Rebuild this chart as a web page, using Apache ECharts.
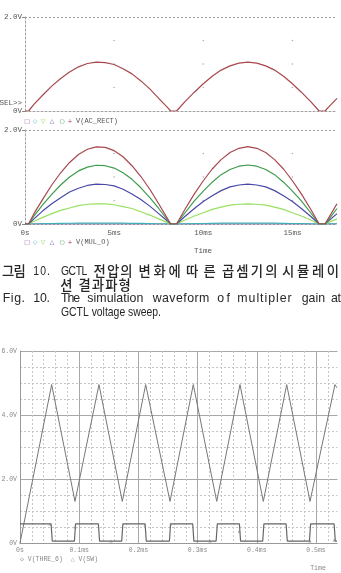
<!DOCTYPE html>
<html><head><meta charset="utf-8">
<script src="https://cdn.jsdelivr.net/npm/echarts@6/dist/echarts.min.js"></script>
<style>html,body{margin:0;padding:0;background:#fff}#c{width:341px;height:573px}</style>
</head><body><div id="c"></div>
<script>
// ---- Data: top panels (time in ms, volts) ----
const timeMs = [0,0.2,0.5,1,1.5,2,2.5,3,3.5,4,4.5,5,5.5,6,6.5,7,7.5,8,8.17,8.5,9,9.5,10,10.5,11,11.5,12,12.5,13,13.5,14,14.5,15,15.5,16,16.5,16.83,17,17.5];
const acRect = [0,0,0.14,0.34,0.53,0.69,0.83,0.94,1.01,1.04,1.03,0.99,0.90,0.79,0.64,0.47,0.27,0.07,0,0,0.21,0.40,0.58,0.74,0.87,0.96,1.02,1.04,1.02,0.96,0.87,0.74,0.58,0.40,0.21,0,0,0.07,0.27];
const mulPurple = [0,0,0,0,0,0,0,0,0,0,0,0,0,0,0,0,0,0,0,0,0,0,0,0,0,0,0,0,0,0,0,0,0,0,0,0,0,0,0];
const mulCyan = [0,0,0,0.006,0.01,0.013,0.016,0.018,0.019,0.02,0.02,0.019,0.017,0.015,0.012,0.009,0.005,0.001,0,0,0.004,0.008,0.011,0.014,0.017,0.018,0.019,0.02,0.019,0.018,0.017,0.014,0.011,0.008,0.004,0,0,0.001,0.005];
const mulLime = [0,0,0.06,0.14,0.22,0.29,0.34,0.39,0.42,0.43,0.43,0.41,0.37,0.33,0.26,0.19,0.11,0.03,0,0,0.09,0.17,0.24,0.31,0.36,0.40,0.42,0.43,0.42,0.40,0.36,0.31,0.24,0.17,0.09,0,0,0.03,0.11];
const mulBlue = [0,0,0.11,0.28,0.43,0.56,0.68,0.76,0.82,0.85,0.84,0.81,0.74,0.64,0.52,0.38,0.22,0.06,0,0,0.17,0.33,0.48,0.60,0.71,0.79,0.83,0.85,0.83,0.79,0.71,0.60,0.48,0.33,0.17,0,0,0.06,0.22];
const mulGreen = [0,0,0.17,0.41,0.63,0.83,1.00,1.13,1.21,1.25,1.24,1.19,1.09,0.95,0.77,0.56,0.33,0.08,0,0,0.25,0.49,0.70,0.89,1.05,1.16,1.23,1.255,1.23,1.16,1.05,0.89,0.70,0.49,0.25,0,0,0.08,0.33];
const mulRed = [0,0,0.22,0.53,0.83,1.09,1.31,1.48,1.59,1.64,1.63,1.56,1.43,1.24,1.01,0.74,0.43,0.11,0,0,0.33,0.64,0.92,1.17,1.37,1.52,1.61,1.645,1.61,1.52,1.37,1.17,0.92,0.64,0.33,0,0,0.11,0.43];
const topTicksX = [0,5,10,15];
const topTickLabels = ['0s','5ms','10ms','15ms'];
const dotGridX = [5,10,15];
const dotGridY = [0.5,1.0,1.5];

// ---- Data: bottom chart (time in ms, volts) ----
const thrTime = [0,0.0535,0.0929,0.1334,0.1728,0.2123,0.2534,0.2927,0.3323,0.3716,0.411,0.4505,0.4899,0.532,0.5355];
const thrVolt = [0,4.95,1.3,4.95,1.3,4.95,1.3,4.95,1.3,4.95,1.3,4.95,1.3,4.95,4.85];
const swTime = [0,0.0525,0.0545,0.0919,0.0939,0.1324,0.1344,0.1718,0.1738,0.2113,0.2133,0.2524,0.2544,0.2917,0.2937,0.3313,0.3333,0.3706,0.3726,0.41,0.412,0.4495,0.4515,0.4889,0.4909,0.5306,0.5326,0.5355];
const swVolt = [0.6,0.6,0.06,0.06,0.6,0.6,0.06,0.06,0.6,0.6,0.06,0.06,0.6,0.6,0.06,0.06,0.6,0.6,0.06,0.06,0.6,0.6,0.06,0.06,0.6,0.6,0.06,0.06];
const swMarkTime = [0.0507,0.0929,0.1537,0.2111,0.2546,0.3209,0.3704,0.4899,0.5309];
const swMarkVolt = [0.59,0.5,0.06,0.56,0.59,0.06,0.37,0.06,0.09];

const pairs = (xs, ys) => xs.map((x, i) => [x, ys[i]]);
const cross = (xs, ys) => { const d = []; xs.forEach(x => ys.forEach(y => d.push([x, y]))); return d; };

const mono = '"Liberation Mono","DejaVu Sans Mono",monospace';
const dashGray = '#a0a0a0';

const chart = echarts.init(document.getElementById('c'));

function topX(gi, showLabels) {
  return {
    type: 'value', gridIndex: gi, min: 0, max: 17.5, interval: 5,
    axisLine: { show: true, onZero: false, lineStyle: { color: dashGray, type: [2, 2], width: 1 } },
    axisTick: { show: false },
    axisLabel: {
      show: showLabels, margin: 5, fontFamily: mono, fontSize: 7.5, color: '#555',
      formatter: v => { const i = topTicksX.indexOf(v); return i >= 0 ? topTickLabels[i] : ''; }
    },
    splitLine: { show: false }
  };
}
function topY(gi) {
  return {
    type: 'value', gridIndex: gi, min: 0, max: 2, interval: 2,
    axisLine: { show: true, lineStyle: { color: dashGray, type: [2, 2], width: 1 } },
    axisTick: { show: true, length: 3, lineStyle: { color: '#888' } },
    axisLabel: { margin: 3, fontFamily: mono, fontSize: 7.5, color: '#555', formatter: v => v === 0 ? '0V' : (v === 2 ? '2.0V' : '') },
    splitLine: { show: true, lineStyle: { color: dashGray, type: [2, 2], width: 1 } }
  };
}
function ln(name, gi, xs, ys, color, w) {
  return { name, type: 'line', xAxisIndex: gi, yAxisIndex: gi, data: pairs(xs, ys), showSymbol: false, symbol: 'none',
    lineStyle: { color, width: w || 1.2 }, animation: false, silent: true };
}
function dotSeries(gi) {
  return { type: 'scatter', xAxisIndex: gi, yAxisIndex: gi, data: cross(dotGridX, dotGridY), symbolSize: 1.6,
    itemStyle: { color: '#9a9a9a' }, animation: false, silent: true };
}

const graphics = [];
function txt(text, x, y, font, fill, align) {
  graphics.push({ type: 'text', x, y, silent: true, style: { text, font, fill, align: align || 'left', verticalAlign: 'middle' } });
}
// word spread between x0 and x1 with lightly condensed glyphs and letter spacing (justified typesetting)
const mctx = document.createElement('canvas').getContext('2d');
function spreadWord(text, x0, x1, y, font, sx, fill) {
  mctx.font = font;
  const chars = Array.from(text);
  const ws = chars.map(c => mctx.measureText(c).width * sx);
  const total = ws.reduce((a, b) => a + b, 0);
  const gap = chars.length > 1 ? (x1 - x0 - total) / (chars.length - 1) : 0;
  let x = x0;
  chars.forEach((c, i) => {
    graphics.push({ type: 'text', x, y, scaleX: sx, scaleY: 1, silent: true,
      style: { text: c, font, fill, align: 'left', verticalAlign: 'middle' } });
    x += ws[i] + gap;
  });
}

txt('SEL>>', 22, 103, '7.5px ' + mono, '#555', 'right');
const legSyms = [['□', '#a050b0'], ['◇', '#40a0a8'], ['▽', '#90d850'], ['△', '#4848a8'], ['○', '#40a048'], ['+', '#b04050']];
function legendRow(y, label) {
  const xs = [27, 35, 43, 52, 62, 70];
  legSyms.forEach((s, i) => txt(s[0], xs[i], y, '6px "DejaVu Sans"', s[1], 'center'));
  txt(label, 76, y, '7px ' + mono, '#555', 'left');
}
legendRow(121, 'V(AC_RECT)');
legendRow(242, 'V(MUL_O)');
txt('Time', 203, 251, '7.5px ' + mono, '#555', 'center');

// caption
const ko = '500 14px "Noto Sans CJK KR"';
const en = '13px "Liberation Sans",Arial,sans-serif';
const KS = 0.95, ES = 0.95;
const capCol = '#262626';
const kAdj = 0.8;
[['그림', 2.7, 25, 'k'], ['10.', 33.3, 50, 'e'], ['GCTL', 61, 87.3, 'e'], ['전압의', 94.3, 131.7, 'k'], ['변화에', 139.3, 180, 'k'],
 ['따른', 186.7, 215, 'k'], ['곱셈기의', 222.7, 276.7, 'k'], ['시뮬레이', 282.7, 338.3, 'k']]
  .forEach(w => w[3] === 'k'
    ? spreadWord(w[0], w[1] - kAdj, w[2] + kAdj, 271, ko, KS, capCol)
    : spreadWord(w[0], w[1], w[2], 271, en, 0.8, capCol));
[['션', 61, 71], ['결과파형', 79.3, 130]].forEach(w => spreadWord(w[0], w[1] - kAdj, w[2] + kAdj, 284.5, ko, KS, capCol));
[['Fig.', 2.7, 25], ['10.', 33.3, 50], ['The', 61, 80], ['simulation', 87.3, 143.3], ['waveform', 152.7, 209.3], ['of', 217.3, 230],
 ['multipler', 237.3, 291.7], ['gain', 301.7, 325], ['at', 331, 341]]
  .forEach(w => spreadWord(w[0], w[1], w[2], 298.5, en, ES, capCol));
graphics.push({ type: 'text', x: 61, y: 312, scaleX: 0.8, scaleY: 1, silent: true,
  style: { text: 'GCTL voltage sweep.', font: en, fill: capCol, align: 'left', verticalAlign: 'middle' } });

graphics.push({ type: 'rect', shape: { x: 337.5, y: 340, width: 10, height: 206 }, style: { fill: '#fff' }, z: 100, silent: true });
txt('◇ V(THRE_6)  △ V(SW)', 20, 559, '6.5px ' + mono, '#888', 'left');
txt('Time', 318, 568, '6.5px ' + mono, '#888', 'center');

const option = {
  animation: false,
  backgroundColor: '#fff',
  grid: [
    { left: 25, top: 17, width: 312, height: 94, outerBoundsMode: 'none', containLabel: false },
    { left: 25, top: 130, width: 312, height: 94, outerBoundsMode: 'none', containLabel: false },
    { left: 20, top: 351, width: 355.2, height: 192, outerBoundsMode: 'none', containLabel: false }
  ],
  xAxis: [
    topX(0, false),
    topX(1, true),
    {
      type: 'value', gridIndex: 2, min: 0, max: 0.6, interval: 0.1,
      axisLine: { show: true, lineStyle: { color: '#999', width: 1 } },
      axisTick: { show: false },
      axisLabel: { margin: 4, fontFamily: mono, fontSize: 6.5, color: '#888',
        formatter: v => v === 0 ? '0s' : (v > 0.55 ? '' : v.toFixed(1) + 'ms') },
      splitLine: { show: true, lineStyle: { color: '#a8a8a8', width: 1 } },
      minorTick: { show: false, splitNumber: 5 },
      minorSplitLine: { show: true, lineStyle: { color: '#c6c6c6', type: [2, 2], width: 1 } }
    }
  ],
  yAxis: [
    topY(0),
    topY(1),
    {
      type: 'value', gridIndex: 2, min: 0, max: 6, interval: 2,
      axisLine: { show: true, lineStyle: { color: '#999', width: 1 } },
      axisTick: { show: false },
      axisLabel: { margin: 3, fontFamily: mono, fontSize: 6.5, color: '#888', formatter: v => v === 0 ? '0V' : v.toFixed(1) + 'V' },
      splitLine: { show: true, lineStyle: { color: '#a8a8a8', width: 1 } },
      minorTick: { show: false, splitNumber: 4 },
      minorSplitLine: { show: true, lineStyle: { color: '#c6c6c6', type: [2, 2], width: 1 } }
    }
  ],
  series: [
    dotSeries(0),
    dotSeries(1),
    ln('V(AC_RECT)', 0, timeMs, acRect, '#a8484e'),
    ln('p', 1, timeMs, mulPurple, '#a050b0'),
    ln('c', 1, timeMs, mulCyan, '#40b0b8'),
    ln('l', 1, timeMs, mulLime, '#98e060'),
    ln('b', 1, timeMs, mulBlue, '#4848a8'),
    ln('g', 1, timeMs, mulGreen, '#3c9c4c'),
    ln('r', 1, timeMs, mulRed, '#a8484e'),
    ln('V(THRE_6)', 2, thrTime, thrVolt, '#777', 1),
    ln('V(SW)', 2, swTime, swVolt, '#666', 1.2),
    { type: 'scatter', xAxisIndex: 2, yAxisIndex: 2, data: pairs(swMarkTime, swMarkVolt), symbol: 'triangle', symbolSize: 3,
      itemStyle: { color: '#888' }, animation: false, silent: true, z: 3 }
  ],
  graphic: graphics
};
chart.setOption(option);
</script></body></html>
